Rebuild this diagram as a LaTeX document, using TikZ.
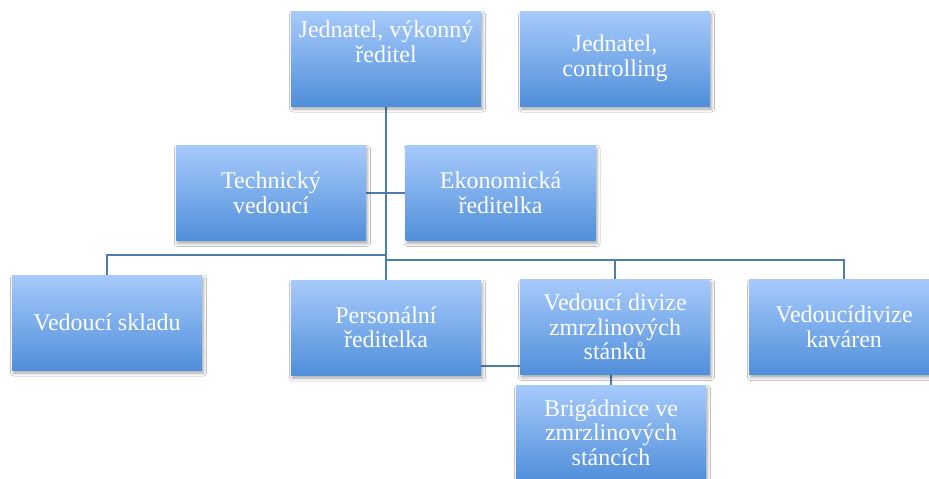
\documentclass[tikz,border=0pt]{standalone}
\usepackage{fontspec}
\setmainfont{Liberation Serif}
\usetikzlibrary{shadows.blur,backgrounds}
\definecolor{boxtop}{RGB}{167,202,252}
\definecolor{boxbot}{RGB}{80,143,218}
\definecolor{linec}{RGB}{78,124,172}
\tikzset{
  orgbox/.style={rectangle, minimum width=190pt, minimum height=95pt, inner sep=0pt,
    top color=boxtop, bottom color=boxbot, draw=none, text=white,
    align=center, font=\fontsize{24}{24.5}\selectfont,
    blur shadow={shadow xshift=1.5pt, shadow yshift=-3pt, shadow blur radius=3pt, shadow opacity=35}},
  conn/.style={draw=linec, line width=1.5pt}
}
\begin{document}
\begin{tikzpicture}[x=1pt,y=-1pt]
\useasboundingbox (0,0) rectangle (929,479);
\coordinate (j1) at (386,255);
\coordinate (j2) at (386,260);
\coordinate (p1) at (481,366);
\node[orgbox] (ceo) at (386,58.5) {};
\node[orgbox] (ctrl) at (615,58.5) {Jednatel,\\controlling};
\node[orgbox] (tech) at (271,193) {Technický\\vedoucí};
\node[orgbox] (eko) at (500.5,193) {Ekonomická\\ředitelka};
\node[orgbox] (sklad) at (107,322.5) {Vedoucí skladu};
\node[orgbox] (pers) at (386,327.5) {Personální\\ředitelka};
\node[orgbox] (zmrz) at (615,327) {Vedoucí divize\\zmrzlinových\\stánků};
\node[orgbox] (kav) at (844,327) {Vedoucídivize\\kaváren};
\node[orgbox] (brig) at (611,432.5) {Brigádnice ve\\zmrzlinových\\stáncích};
\node[text=white, align=center, font=\fontsize{24}{24.5}\selectfont, inner sep=0pt] (ceotext) at (386,42) {Jednatel, výkonný\\ředitel};
\begin{scope}[on background layer]
\fill[white] (0,0) rectangle (929,479);
\draw[conn] (ceo.south) -- (pers.north);
\draw[conn] (tech.east) -- (eko.west);
\draw[conn] (j1) -| (sklad.north);
\draw[conn] (j2) -| (zmrz.north);
\draw[conn] (j2) -| (kav.north);
\draw[conn] (p1) -- (p1 -| zmrz.west);
\draw[conn] (zmrz.south -| brig.north) -- (brig.north);
\end{scope}
\end{tikzpicture}
\end{document}
